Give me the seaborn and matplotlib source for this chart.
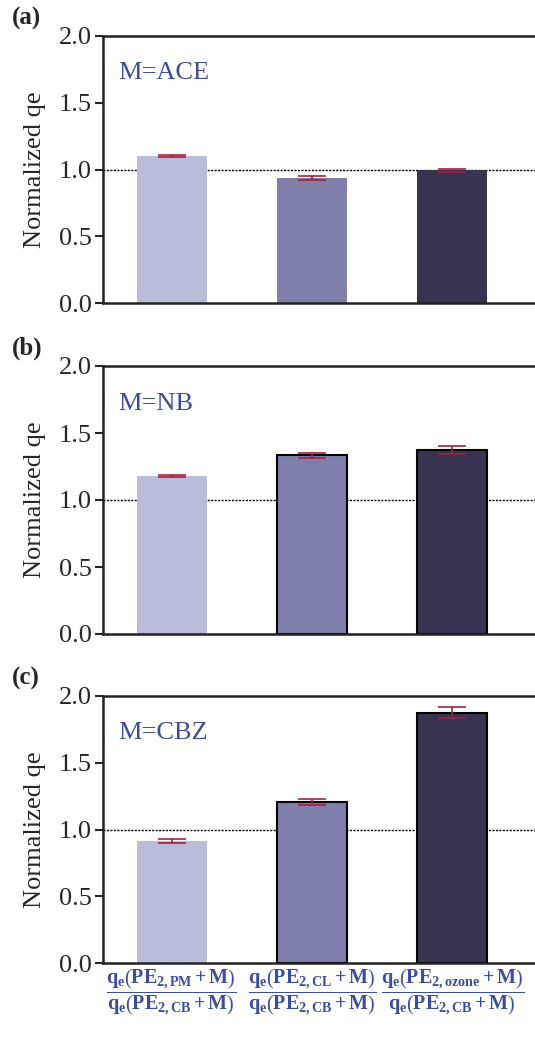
import matplotlib
matplotlib.use("Agg")
import matplotlib.pyplot as plt
import seaborn as sns
import pandas as pd

sns.set_theme(style="white")
plt.rcParams['font.family'] = ['Liberation Serif', 'DejaVu Serif']
plt.rcParams['mathtext.fontset'] = 'custom'
plt.rcParams['mathtext.rm'] = 'Liberation Serif'
plt.rcParams['mathtext.it'] = 'Liberation Serif:italic'
plt.rcParams['mathtext.bf'] = 'Liberation Serif:bold'

categories = ["PM", "CL", "ozone"]
panel_labels = ["(a)", "(b)", "(c)"]
compounds = ["M=ACE", "M=NB", "M=CBZ"]
values_ace = [1.10, 0.935, 0.995]
errors_ace = [0.008, 0.015, 0.010]
values_nb = [1.18, 1.335, 1.37]
errors_nb = [0.010, 0.018, 0.030]
values_cbz = [0.915, 1.205, 1.875]
errors_cbz = [0.015, 0.020, 0.040]
yticks = [0.0, 0.5, 1.0, 1.5, 2.0]
xtick_labels = [
    r'$\mathbf{\dfrac{q_e\left(PE_{2,PM}+M\right)}{q_e\left(PE_{2,CB}+M\right)}}$',
    r'$\mathbf{\dfrac{q_e\left(PE_{2,CL}+M\right)}{q_e\left(PE_{2,CB}+M\right)}}$',
    r'$\mathbf{\dfrac{q_e\left(PE_{2,ozone}+M\right)}{q_e\left(PE_{2,CB}+M\right)}}$',
]

bar_colors = ["#BBBBDA", "#807FAC", "#393352"]
err_color = "#A3203F"
label_blue = "#3A4E9C"

W, H = 535, 1052
fig = plt.figure(figsize=(W / 100, H / 100), dpi=100)

panels = [
    (values_ace, errors_ace, 36, 303, False),
    (values_nb, errors_nb, 366, 634, True),
    (values_cbz, errors_cbz, 696, 963, True),
]

left = 103 / W
width = (545 - 103) / W

for i, (vals, errs, top, bot, edges) in enumerate(panels):
    ax = fig.add_axes([left, 1 - bot / H, width, (bot - top) / H])
    df = pd.DataFrame({"cat": categories, "val": vals})
    sns.barplot(data=df, x="cat", y="val", hue="cat", palette=bar_colors,
                legend=False, width=0.5, ax=ax, saturation=1, zorder=2)
    for j, p in enumerate(ax.patches):
        if edges and j > 0:
            p.set_edgecolor("black")
            p.set_linewidth(1.5)
        else:
            p.set_edgecolor("none")
    ax.errorbar(x=list(range(len(categories))), y=vals, yerr=errs, fmt="none",
                ecolor=err_color, elinewidth=1.2, capsize=10, capthick=1.2, zorder=3)
    ax.axhline(1.0, color="black", lw=1.0, ls=(0, (1.5, 1)), zorder=1)
    ax.set_ylim(0, 2.0)
    ax.set_xlim(-0.49, 2.66)
    ax.set_yticks(yticks)
    ax.set_yticklabels([f"{t:.1f}" for t in yticks], fontsize=19)
    ax.tick_params(axis="y", direction="out", length=6, width=1.5, pad=2, left=True)
    ax.set_ylabel("Normalized qe", fontsize=19, labelpad=9)
    ax.set_xlabel("")
    for s in ax.spines.values():
        s.set_linewidth(1.8)
        s.set_color("#222222")
    ax.spines["right"].set_visible(False)
    ax.text(0.035, 0.86, compounds[i], transform=ax.transAxes, fontsize=19,
            color=label_blue, ha="left", va="center")
    fig.text(12 / W, 1 - (top - 18) / H, panel_labels[i], fontsize=18,
             fontweight="bold", ha="left", va="center")
    if i == 2:
        ax.set_xticks(list(range(len(categories))))
        ax.set_xticklabels(xtick_labels, fontsize=14.5, color=label_blue)
        ax.tick_params(axis="x", length=0, pad=3)
    else:
        ax.set_xticks([])

fig.savefig("out.png", dpi=100)
